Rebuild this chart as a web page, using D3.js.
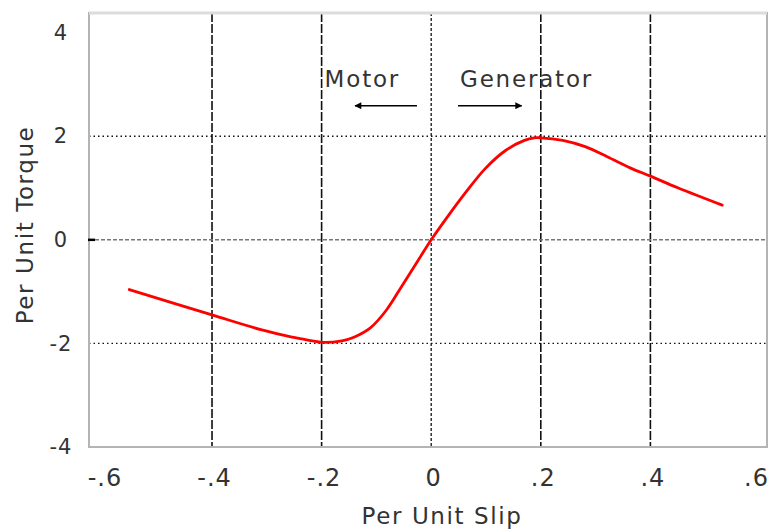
<!DOCTYPE html>
<html>
<head>
<meta charset="utf-8">
<script src="https://cdn.jsdelivr.net/npm/d3@7"></script>
<style>
  body { margin: 0; background: #fff; }
  svg text { font-family: "DejaVu Sans", Verdana, sans-serif; fill: #333; }
</style>
</head>
<body>
<svg width="772" height="530"></svg>
<script>
// **** Chart values ****

var slip = [-0.551, -0.4, -0.309, -0.254, -0.217, -0.2, -0.163, -0.141, -0.111,
    -0.082, -0.054, -0.024, 0, 0.028, 0.064, 0.099, 0.135, 0.170, 0.188, 0.2,
    0.240, 0.281, 0.322, 0.363, 0.4, 0.451, 0.531];
var torque = [-0.96, -1.45, -1.74, -1.88, -1.95, -1.98, -1.95, -1.88, -1.70,
    -1.36, -0.90, -0.40, 0, 0.42, 0.93, 1.38, 1.72, 1.92, 1.97, 1.97,
    1.92, 1.80, 1.60, 1.39, 1.23, 1.00, 0.67];

var xTicks = [-0.6, -0.4, -0.2, 0, 0.2, 0.4, 0.6];
var xTickLabels = ["-.6", "-.4", "-.2", "0", ".2", ".4", ".6"];
var yTicks = [-4, -2, 0, 2, 4];
var yTickLabels = ["-4", "-2", "0", "2", "4"];

var xGrid = [-0.4, -0.2, 0.2, 0.4];
var yGrid = [-2, 2];

// **** Scales ****

var plotLeft = 89, plotRight = 767, plotTop = 13, plotBottom = 447;

var xScale = d3.scaleLinear().domain([-0.6245, 0.6128]).range([plotLeft, plotRight]);
var yScale = d3.scaleLinear().domain([-4, 4.38]).range([plotBottom, plotTop]);

var svg = d3.select('svg');

// **** Grid ****

svg.selectAll('.vgrid').data(xGrid).enter().append('line')
    .attr('class', 'vgrid')
    .attr('x1', d => xScale(d)).attr('x2', d => xScale(d))
    .attr('y1', plotTop).attr('y2', plotBottom + 1)
    .style('stroke', '#111').style('stroke-width', 1.6)
    .style('stroke-dasharray', '9,2');

svg.append('line')
    .attr('x1', xScale(0)).attr('x2', xScale(0))
    .attr('y1', plotTop).attr('y2', plotBottom)
    .style('stroke', '#222').style('stroke-width', 1.4)
    .style('stroke-dasharray', '3,2');

svg.selectAll('.hgrid').data(yGrid).enter().append('line')
    .attr('class', 'hgrid')
    .attr('x1', plotLeft).attr('x2', plotRight)
    .attr('y1', d => yScale(d)).attr('y2', d => yScale(d))
    .style('stroke', '#111').style('stroke-width', 1.3)
    .style('stroke-dasharray', '1.5,3');

svg.append('line')
    .attr('x1', plotLeft).attr('x2', plotRight)
    .attr('y1', yScale(0)).attr('y2', yScale(0))
    .style('stroke', '#777').style('stroke-width', 1.5)
    .style('stroke-dasharray', '4,2');

// frame
svg.append('rect')
    .attr('x', plotLeft).attr('y', plotTop)
    .attr('width', plotRight - plotLeft).attr('height', plotBottom - plotTop)
    .style('fill', 'none').style('stroke', '#b4b4b4').style('stroke-width', 2);
svg.append('line')
    .attr('x1', plotLeft).attr('x2', plotRight).attr('y1', plotTop).attr('y2', plotTop)
    .style('stroke', '#dcdcdc').style('stroke-width', 3);

// small mark at zero on the left edge
svg.append('line')
    .attr('x1', plotLeft - 1).attr('x2', plotLeft + 6)
    .attr('y1', yScale(0)).attr('y2', yScale(0))
    .style('stroke', '#000').style('stroke-width', 2.5);

// **** Axes ****

svg.append('g').attr('class', 'x axis')
    .attr('transform', 'translate(0,' + plotBottom + ')')
    .call(d3.axisBottom(xScale).tickValues(xTicks).tickSize(0).tickPadding(22)
        .tickFormat((d, i) => xTickLabels[i]))
    .call(g => g.select('.domain').remove())
    .selectAll('text')
    .style('font-size', '24px').style('letter-spacing', '1px')
    .style('fill', '#333')
    .attr('dx', (d, i) => i === xTicks.length - 1 ? -4 : 2);

svg.append('g').attr('class', 'y axis')
    .attr('transform', 'translate(' + plotLeft + ',0)')
    .call(d3.axisLeft(yScale).tickValues(yTicks).tickSize(0).tickPadding(28)
        .tickFormat((d, i) => yTickLabels[i]))
    .call(g => g.select('.domain').remove())
    .selectAll('text')
    .attr('text-anchor', 'middle')
    .style('font-size', '21px').style('letter-spacing', '1px')
    .style('fill', '#333');

svg.append('text')
    .attr('text-anchor', 'middle')
    .attr('x', 442).attr('y', 524)
    .style('font-size', '23px').style('letter-spacing', '1.6px')
    .text('Per Unit Slip');

svg.append('text')
    .attr('text-anchor', 'middle')
    .attr('transform', 'translate(33,225) rotate(-90)')
    .style('font-size', '23px').style('letter-spacing', '1.6px')
    .text('Per Unit Torque');

// **** Annotations ****

svg.append('defs').append('marker')
    .attr('id', 'head')
    .attr('viewBox', '0 0 10 10')
    .attr('refX', 9).attr('refY', 5)
    .attr('markerWidth', 9).attr('markerHeight', 7)
    .attr('markerUnits', 'userSpaceOnUse')
    .attr('orient', 'auto')
    .append('path').attr('d', 'M0,0 L10,5 L0,10 Z').style('fill', '#000');

svg.append('text')
    .attr('x', xScale(-0.2) + 3).attr('y', yScale(2.96))
    .style('font-size', '23px').style('letter-spacing', '1.8px')
    .text('Motor');

svg.append('text')
    .attr('x', xScale(0.0526)).attr('y', yScale(2.96))
    .style('font-size', '23px').style('letter-spacing', '1.8px')
    .text('Generator');

svg.append('line')
    .attr('x1', xScale(-0.026)).attr('x2', xScale(-0.139))
    .attr('y1', yScale(2.59)).attr('y2', yScale(2.59))
    .style('stroke', '#000').style('stroke-width', 1.6)
    .attr('marker-end', 'url(#head)');

svg.append('line')
    .attr('x1', xScale(0.049)).attr('x2', xScale(0.165))
    .attr('y1', yScale(2.59)).attr('y2', yScale(2.59))
    .style('stroke', '#000').style('stroke-width', 1.6)
    .attr('marker-end', 'url(#head)');

// **** Torque-slip curve ****

var points = slip.map((s, i) => [s, torque[i]]);

svg.append('path')
    .datum(points)
    .attr('d', d3.line()
        .x(d => xScale(d[0]))
        .y(d => yScale(d[1]))
        .curve(d3.curveCatmullRom.alpha(0.5)))
    .style('fill', 'none')
    .style('stroke', '#ff0000')
    .style('stroke-width', 2.8)
    .style('stroke-linecap', 'round');
</script>
</body>
</html>
